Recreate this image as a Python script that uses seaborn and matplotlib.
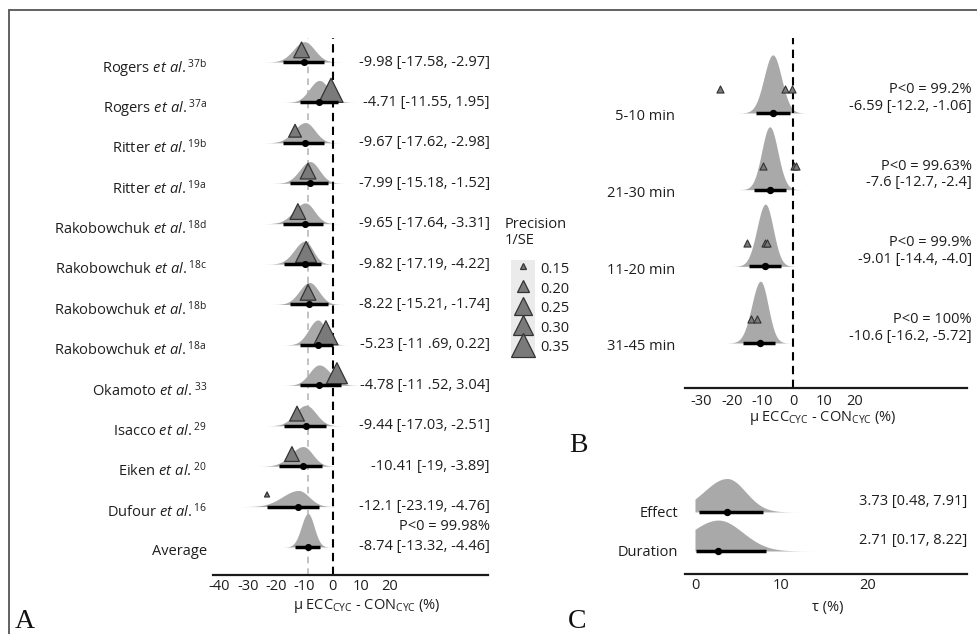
import numpy as np
import pandas as pd
import matplotlib
matplotlib.use("Agg")
import matplotlib.pyplot as plt
import matplotlib.transforms as mtransforms
from matplotlib.lines import Line2D
from matplotlib.patches import Rectangle
import seaborn as sns

# ---------------- data ----------------
study_names = ["Rogers", "Rogers", "Ritter", "Ritter", "Rakobowchuk", "Rakobowchuk",
               "Rakobowchuk", "Rakobowchuk", "Okamoto", "Isacco", "Eiken", "Dufour"]
study_refs = ["37b", "37a", "19b", "19a", "18d", "18c", "18b", "18a", "33", "29", "20", "16"]
study_mean = [-9.98, -4.71, -9.67, -7.99, -9.65, -9.82, -8.22, -5.23, -4.78, -9.44, -10.41, -12.1]
study_lo = [-17.58, -11.55, -17.62, -15.18, -17.64, -17.19, -15.21, -11.69, -11.52, -17.03, -19.0, -23.19]
study_hi = [-2.97, 1.95, -2.98, -1.52, -3.31, -4.22, -1.74, 0.22, 3.04, -2.51, -3.89, -4.76]
study_text = ["-9.98 [-17.58, -2.97]", "-4.71 [-11.55, 1.95]", "-9.67 [-17.62, -2.98]",
              "-7.99 [-15.18, -1.52]", "-9.65 [-17.64, -3.31]", "-9.82 [-17.19, -4.22]",
              "-8.22 [-15.21, -1.74]", "-5.23 [-11 .69, 0.22]", "-4.78 [-11 .52, 3.04]",
              "-9.44 [-17.03, -2.51]", "-10.41 [-19, -3.89]", "-12.1 [-23.19, -4.76]"]
study_obs = [-11.0, -0.6, -13.3, -8.7, -12.3, -9.4, -8.7, -2.4, 1.5, -12.6, -14.4, -23.2]
study_prec = [0.23, 0.35, 0.20, 0.23, 0.23, 0.30, 0.23, 0.35, 0.30, 0.22, 0.22, 0.15]

avg_mean, avg_lo, avg_hi = -8.74, -13.32, -4.46
avg_text = "-8.74 [-13.32, -4.46]"
avg_p = "P<0 = 99.98%"

dur_labels = ["5-10 min", "21-30 min", "11-20 min", "31-45 min"]
dur_mean = [-6.59, -7.6, -9.01, -10.6]
dur_lo = [-12.2, -12.7, -14.4, -16.2]
dur_hi = [-1.06, -2.4, -4.0, -5.72]
dur_text = ["-6.59 [-12.2, -1.06]", "-7.6 [-12.7, -2.4]", "-9.01 [-14.4, -4.0]", "-10.6 [-16.2, -5.72]"]
dur_p = ["P<0 = 99.2%", "P<0 = 99.63%", "P<0 = 99.9%", "P<0 = 100%"]
dur_obs_group = ["5-10 min"] * 3 + ["21-30 min"] * 3 + ["11-20 min"] * 3 + ["31-45 min"] * 2
dur_obs = [-23.8, -2.6, -0.3, -9.8, 0.3, 1.0, -15.0, -9.1, -8.5, -13.7, -11.7]

tau_labels = ["Effect", "Duration"]
tau_est = [3.73, 2.71]
tau_lo = [0.48, 0.17]
tau_hi = [7.91, 8.22]
tau_left_sd = [2.7, 3.2]
tau_text = ["3.73 [0.48, 7.91]", "2.71 [0.17, 8.22]"]

legend_vals = [0.15, 0.20, 0.25, 0.30, 0.35]
ticksA = [-40, -30, -20, -10, 0, 10, 20]
ticksB = [-30, -20, -10, 0, 10, 20]
ticksC = [0, 10, 20]

# ---------------- style ----------------
sns.set_style("white")
plt.rcParams["font.family"] = ["Open Sans", "DejaVu Sans"]
plt.rcParams["mathtext.fontset"] = "custom"
plt.rcParams["mathtext.rm"] = "Open Sans"
plt.rcParams["mathtext.it"] = "Open Sans:italic"
plt.rcParams["mathtext.bf"] = "Open Sans:bold"
plt.rcParams["axes.unicode_minus"] = False

FS = 10.5
TXT = "#1e1e1e"
DENS = "#a9a9a9"
TRI_FILL = "#7a7a7a"
TRI_EDGE = "#333333"
SIZES = (13, 300)
SNORM = (0.15, 0.35)

W, H, DPI = 978, 634, 100
fig = plt.figure(figsize=(W / DPI, H / DPI), dpi=DPI)
fig.patch.set_facecolor("white")


def px_axes(x0, x1, y0, y1):
    return fig.add_axes([x0 / W, 1 - y1 / H, (x1 - x0) / W, (y1 - y0) / H])


def split_pdf(x, mode, sl, sr):
    z = np.where(x < mode, (x - mode) / sl, (x - mode) / sr)
    return np.exp(-0.5 * z * z)


def halfeye(ax, y, est, lo, hi, scale, sl=None, xmin=None):
    if sl is None:
        sl = (est - lo) / 1.96
    sr = (hi - est) / 1.96
    x0 = est - 4 * sl
    if xmin is not None:
        x0 = max(xmin, x0)
    xs = np.linspace(x0, est + 4 * sr, 600)
    d = split_pdf(xs, est, sl, sr)
    d = d / np.trapezoid(d, xs)
    ax.fill_between(xs, y, y + d * scale, color=DENS, lw=0, zorder=1)
    ax.plot([lo, hi], [y, y], color="black", lw=2.5, solid_capstyle="butt", zorder=4)


def style_axis(ax, xlim, ylim, xticks, pad_x, pad_y):
    ax.set_xlim(*xlim)
    ax.set_ylim(*ylim)
    sns.despine(ax=ax, left=True, top=True, right=True)
    ax.spines["bottom"].set_linewidth(1.6)
    ax.spines["bottom"].set_color("#1a1a1a")
    ax.set_xticks(xticks)
    ax.set_xticklabels([str(t) for t in xticks])
    ax.tick_params(axis="both", length=0, labelsize=FS, labelcolor=TXT)
    ax.tick_params(axis="x", pad=pad_x)
    ax.tick_params(axis="y", pad=pad_y)
    ax.set_facecolor("none")


def shift_labels(ax, dy_px):
    off = mtransforms.ScaledTranslation(0, dy_px / DPI, fig.dpi_scale_trans)
    for lab in ax.get_yticklabels():
        lab.set_transform(lab.get_transform() + off)


xlab = r"μ ECC$_{\mathrm{CYC}}$ - CON$_{\mathrm{CYC}}$ (%)"

# ---------------- Panel A ----------------
axA = px_axes(213, 488, 38, 575)
nS = len(study_names)
rowsA = np.arange(nS, 0, -1)
dfA = pd.DataFrame({"row": rowsA, "mean": study_mean, "lo": study_lo, "hi": study_hi,
                    "obs": study_obs, "prec": study_prec})
dfA["tri_y"] = dfA["row"] + 0.3

axA.axvline(avg_mean, color="#b8b8b8", lw=1.2, dashes=(4, 3), zorder=0.5)
for r in dfA.itertuples():
    halfeye(axA, r.row, r.mean, r.lo, r.hi, 4.7)
halfeye(axA, 0, avg_mean, avg_lo, avg_hi, 4.7)
axA.axvline(0, color="black", lw=1.5, dashes=(4, 2.6), zorder=2.5)
sns.scatterplot(data=dfA, x="obs", y="tri_y", size="prec", sizes=SIZES, size_norm=SNORM,
                marker="^", color=TRI_FILL, edgecolor=TRI_EDGE, linewidth=0.9,
                legend=False, ax=axA, zorder=3)
dots_A = pd.DataFrame({"x": study_mean + [avg_mean], "y": list(rowsA) + [0]})
sns.scatterplot(data=dots_A, x="x", y="y", color="black", s=26, linewidth=0,
                legend=False, ax=axA, zorder=5)

style_axis(axA, (-42.3, 54.9), (-0.693, 12.594), ticksA, 3, 4.3)
axA.set_yticks(list(rowsA) + [0])
axA.set_yticklabels([f"{n} $\\mathit{{et\\ al.}}^{{\\mathrm{{{r}}}}}$" for n, r in zip(study_names, study_refs)]
                    + ["Average"])
shift_labels(axA, -3)
tA = axA.get_yaxis_transform()
for r, s in zip(rowsA, study_text):
    axA.text(1.007, r, s, transform=tA, ha="right", va="center", fontsize=FS, color=TXT)
axA.text(1.007, 0.0, avg_text, transform=tA, ha="right", va="center", fontsize=FS, color=TXT)
axA.text(1.007, 0.5, avg_p, transform=tA, ha="right", va="center", fontsize=FS, color=TXT)
axA.set_xlabel(xlab, fontsize=FS, color=TXT, va="center")
axA.set_ylabel("")
axA.xaxis.set_label_coords(0.56, -31 / 537)

# ---------------- Panel B ----------------
axB = px_axes(685, 967, 38, 388)
nD = len(dur_labels)
rowsB = np.arange(nD - 1, -1, -1)
rowmapB = dict(zip(dur_labels, rowsB))
dfB = pd.DataFrame({"group": dur_obs_group, "obs": dur_obs})
dfB["tri_y"] = dfB["group"].map(rowmapB) + 0.31
for y, m, lo, hi in zip(rowsB, dur_mean, dur_lo, dur_hi):
    halfeye(axB, y, m, lo, hi, 5.4)
axB.axvline(0, color="black", lw=1.5, dashes=(4, 2.6), zorder=2.5)
sns.scatterplot(data=dfB, x="obs", y="tri_y", marker="^", s=26, color=TRI_FILL,
                edgecolor=TRI_EDGE, linewidth=0.8, legend=False, ax=axB, zorder=3)
sns.scatterplot(x=dur_mean, y=rowsB, color="black", s=28, linewidth=0,
                legend=False, ax=axB, zorder=5)
style_axis(axB, (-35.2, 56.7), (-0.587, 3.978), ticksB, 4.5, 7.2)
axB.set_yticks(rowsB)
axB.set_yticklabels(dur_labels)
shift_labels(axB, -2)
tB = axB.get_yaxis_transform()
for y, s, p in zip(rowsB, dur_text, dur_p):
    axB.text(1.018, y + 0.09, s, transform=tB, ha="right", va="center", fontsize=FS, color=TXT)
    axB.text(1.018, y + 0.305, p, transform=tB, ha="right", va="center", fontsize=FS, color=TXT)
axB.set_xlabel(xlab, fontsize=FS, color=TXT, va="center")
axB.set_ylabel("")
axB.xaxis.set_label_coords(0.489, -30 / 350)

# ---------------- Panel C ----------------
axC = px_axes(685, 967, 460, 574)
rowsC = np.arange(len(tau_labels) - 1, -1, -1)
for y, e, lo, hi, sl in zip(rowsC, tau_est, tau_lo, tau_hi, tau_left_sd):
    halfeye(axC, y, e, lo, hi, 4.7, sl=sl, xmin=0.0)
sns.scatterplot(x=tau_est, y=rowsC, color="black", s=28, linewidth=0,
                legend=False, ax=axC, zorder=5)
style_axis(axC, (-1.16, 31.6), (-0.59, 2.33), ticksC, 3, 5)
axC.set_yticks(rowsC)
axC.set_yticklabels(tau_labels)
tC = axC.get_yaxis_transform()
for y, s in zip(rowsC, tau_text):
    axC.text(1.0, y + 0.27, s, transform=tC, ha="right", va="center", fontsize=FS, color=TXT)
axC.set_xlabel("τ (%)", fontsize=FS, color=TXT, va="center")
axC.set_ylabel("")
axC.xaxis.set_label_coords(0.507, -34 / 114)

# ---------------- legend ----------------
def size_of(v):
    return SIZES[0] + (v - SNORM[0]) / (SNORM[1] - SNORM[0]) * (SIZES[1] - SIZES[0])

handles = [Line2D([], [], ls="", marker="^", markersize=np.sqrt(size_of(v)),
                  markerfacecolor=TRI_FILL, markeredgecolor=TRI_EDGE, markeredgewidth=0.9)
           for v in legend_vals]
fig.text(505 / W, 1 - 217 / H, "Precision\n1/SE", ha="left", va="top", fontsize=FS,
         color=TXT, linespacing=1.05)
leg = fig.legend(handles, [f"{v:.2f}" for v in legend_vals], loc="upper left",
                 bbox_to_anchor=(510 / W, 1 - 260 / H), frameon=False, fontsize=FS,
                 handlelength=1.75, handleheight=1.33, handletextpad=0.3, labelspacing=0.18,
                 borderpad=0, borderaxespad=0)
for t in leg.get_texts():
    t.set_color(TXT)

fig.canvas.draw()
rend = fig.canvas.get_renderer()
tb = [t.get_window_extent(rend) for t in leg.get_texts()]
hb = [h.get_window_extent(rend) for h in leg.legend_handles]
cx = np.mean([(b.x0 + b.x1) / 2 for b in hb])
cys = [(b.y0 + b.y1) / 2 for b in tb]
step = abs(cys[0] - cys[1])
top, bot = cys[0] + step / 2, cys[-1] - step / 2
inv = fig.transFigure.inverted()
(fx0, fy0) = inv.transform((cx - 12, bot))
(fx1, fy1) = inv.transform((cx + 12, top))
fig.add_artist(Rectangle((fx0, fy0), fx1 - fx0, fy1 - fy0, transform=fig.transFigure,
                         facecolor="#ebebeb", edgecolor="none", zorder=0.5))

# ---------------- panel letters & frame ----------------
for x, yb, s in [(15, 628, "A"), (569, 452, "B"), (568, 628, "C")]:
    fig.text(x / W, 1 - yb / H, s, ha="left", va="baseline", fontsize=20,
             family="Liberation Serif", color="#111111")
fig.add_artist(Line2D([9 / W, 1], [1 - 10 / H, 1 - 10 / H], transform=fig.transFigure,
                      color="#555555", lw=1.3))
fig.add_artist(Line2D([9 / W, 9 / W], [1 - 10 / H, 0], transform=fig.transFigure,
                      color="#555555", lw=1.3))

fig.savefig("out.png", dpi=DPI, facecolor="white")
